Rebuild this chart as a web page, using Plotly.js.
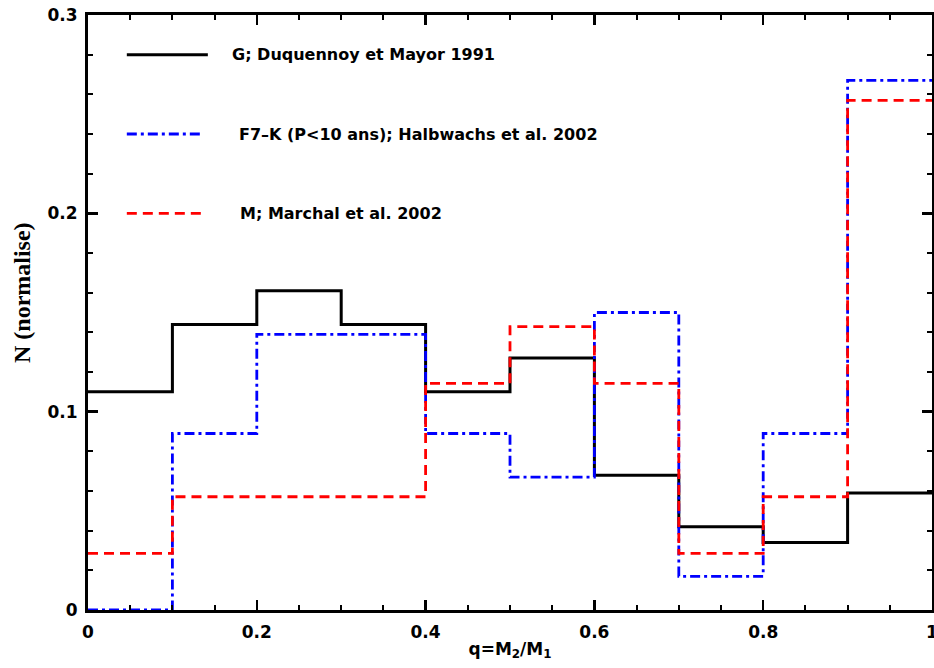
<!DOCTYPE html>
<html>
<head>
<meta charset="utf-8">
<script src="https://cdn.plot.ly/plotly-3.0.1.min.js"></script>
<style>
  html, body { margin: 0; padding: 0; background: #fff; }
  #chart { width: 934px; height: 668px; }
</style>
</head>
<body>
<div id="chart"></div>
<script>
// Bin edges of q = M2/M1
const binEdges = [0, 0.1, 0.2, 0.3, 0.4, 0.5, 0.6, 0.7, 0.8, 0.9, 1.0];

// Normalised counts per bin
const gDuquennoy = [0.110, 0.144, 0.161, 0.144, 0.110, 0.127, 0.068, 0.042, 0.034, 0.059];
const f7kHalbwachs = [0.000, 0.089, 0.139, 0.139, 0.089, 0.067, 0.150, 0.017, 0.089, 0.267];
const mMarchal = [0.0286, 0.0571, 0.0571, 0.0571, 0.1143, 0.1429, 0.1143, 0.0286, 0.0571, 0.257];

const seriesNames = [
  "G; Duquennoy et Mayor 1991",
  "F7\u2013K (P<10 ans); Halbwachs et al. 2002",
  "M; Marchal et al. 2002"
];

const xTickVals = [0, 0.2, 0.4, 0.6, 0.8, 1];
const xTickText = ["0", "0.2", "0.4", "0.6", "0.8", "1"];
const yTickVals = [0, 0.1, 0.2, 0.3];
const yTickText = ["0", "0.1", "0.2", "0.3"];

const xTitle = "q=M<sub>2</sub>/M<sub>1</sub>";
const yTitle = "N (normalise)";

function stepY(vals) { return vals.concat([vals[vals.length - 1]]); }

const styles = [
  { color: "#000000", width: 3, dash: "solid" },
  { color: "#0000ff", width: 2.8, dash: "10px,4px,3px,4px" },
  { color: "#ff0000", width: 2.8, dash: "10px,6px" }
];
const seriesVals = [gDuquennoy, f7kHalbwachs, mMarchal];

const traces = seriesVals.map((v, i) => ({
  type: "scatter",
  mode: "lines",
  x: binEdges,
  y: stepY(v),
  name: seriesNames[i],
  line: { shape: "hv", color: styles[i].color, width: styles[i].width, dash: styles[i].dash },
  showlegend: false,
  hoverinfo: "skip"
}));

// Legend drawn inside the frame (line samples + labels)
const legendRowsY = [0.28, 0.24, 0.2];
const legendTextX = [0.168, 0.176, 0.178];
const shapes = styles.map((s, i) => ({
  type: "line", xref: "x", yref: "y",
  x0: 0.046, x1: i === 0 ? 0.142 : 0.137, y0: legendRowsY[i], y1: legendRowsY[i],
  line: { color: s.color, width: s.width, dash: s.dash }
}));
const annotations = seriesNames.map((t, i) => ({
  xref: "x", yref: "y", x: legendTextX[i], y: legendRowsY[i],
  text: t, showarrow: false, xanchor: "left", yanchor: "middle",
  font: { family: "DejaVu Sans", size: 16, color: "#000", weight: "bold" }
}));
// y-axis title (placed like the original, slightly above centre)
annotations.push({
  xref: "paper", yref: "paper", x: -0.078, y: 0.533,
  text: yTitle, showarrow: false, textangle: -90,
  xanchor: "center", yanchor: "middle",
  font: { family: "Liberation Serif", size: 24, color: "#000", weight: "bold" }
});

const tickFont = { family: "DejaVu Sans", size: 17, color: "#000", weight: "bold" };

const layout = {
  width: 934, height: 668,
  margin: { l: 88, r: 2, t: 15, b: 58, pad: 0 },
  paper_bgcolor: "#ffffff",
  plot_bgcolor: "#ffffff",
  showlegend: false,
  xaxis: {
    range: [0, 1],
    tickmode: "array", tickvals: xTickVals, ticktext: xTickText,
    ticks: "inside", ticklen: 10, tickwidth: 2.5, tickcolor: "#000",
    minor: { dtick: 0.05, tick0: 0, ticks: "inside", ticklen: 5, tickwidth: 2, tickcolor: "#000", showgrid: false },
    showline: true, linewidth: 3, linecolor: "#000", mirror: "ticks",
    showgrid: false, zeroline: false,
    tickfont: tickFont,
    ticklabelstandoff: 5,
    ticklabeloverflow: "allow",
    title: { text: xTitle, font: { family: "DejaVu Sans", size: 17, color: "#000", weight: "bold" }, standoff: 2 }
  },
  yaxis: {
    range: [0, 0.3],
    tickmode: "array", tickvals: yTickVals, ticktext: yTickText,
    ticks: "inside", ticklen: 10, tickwidth: 2.5, tickcolor: "#000",
    minor: { dtick: 0.02, tick0: 0, ticks: "inside", ticklen: 5, tickwidth: 2, tickcolor: "#000", showgrid: false },
    showline: true, linewidth: 3, linecolor: "#000", mirror: "ticks",
    showgrid: false, zeroline: false,
    tickfont: tickFont,
    ticklabelstandoff: 4,
    ticklabeloverflow: "allow"
  },
  shapes: shapes,
  annotations: annotations
};

Plotly.newPlot("chart", traces, layout, { staticPlot: true, displayModeBar: false });
</script>
</body>
</html>
